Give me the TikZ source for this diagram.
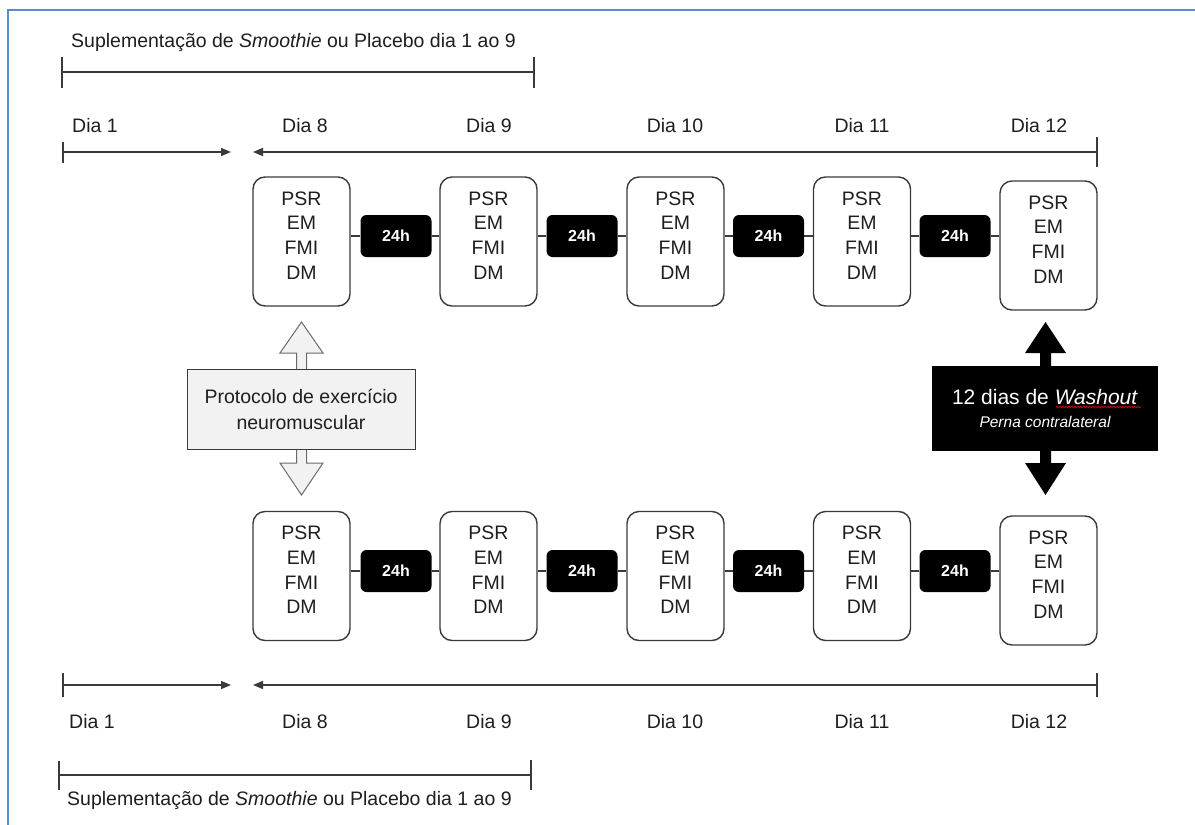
\documentclass[tikz,border=0pt]{standalone}
\usepackage{fontspec}
\setmainfont{Liberation Sans}
\usetikzlibrary{arrows.meta,decorations.pathmorphing}
\definecolor{frameblue}{HTML}{5B8BD0}
\definecolor{lineg}{HTML}{3A3A3A}
\definecolor{txt}{HTML}{1E1E1E}
\definecolor{lightg}{HTML}{F2F2F2}
\definecolor{arrowg}{HTML}{6A6A6A}
\begin{document}
\begin{tikzpicture}[x=1pt,y=-1pt,
  every node/.style={font=\fontsize{19.5}{25}\selectfont, text=txt},
  lbl/.style={inner sep=0pt},
  meas/.style={draw=lineg, line width=1.4pt, rounded corners=12pt, minimum width=97pt, minimum height=129pt, inner sep=0pt,
     label={[align=center, inner sep=0pt, yshift=6pt, font=\fontsize{19.5}{24.7}\selectfont]center:PSR\\EM\\FMI\\DM}},
  hr/.style={fill=black, rounded corners=6pt, minimum width=71pt, minimum height=42pt, inner sep=0pt, text=white, font=\fontsize{16}{18}\selectfont\bfseries},
  conn/.style={draw=lineg, line width=1.4pt},
  tl/.style={draw=lineg, line width=1.4pt},
  tip/.style={-{Triangle[length=10pt,width=8pt]}},
]
\useasboundingbox (0,0) rectangle (1195,825);
% frame
\draw[frameblue, line width=2pt] (8,830) -- (8,10) -- (1200,10);

% ---------- top ----------
\node[lbl, anchor=west] (ttitle) at (71,42) {Suplementação de \textit{Smoothie} ou Placebo dia 1 ao 9};
\coordinate (tbl) at (62,72);
\coordinate (tbr) at (534,72);
\draw[tl] (tbl) -- (tbr);
\draw[tl] ([yshift=15pt]tbl) -- ([yshift=-16pt]tbl);
\draw[tl] ([yshift=15pt]tbr) -- ([yshift=-16pt]tbr);

\node[lbl, anchor=west] (td1) at (72,126) {Dia 1};
\node[lbl] (td8) at (305,126) {Dia 8};
\node[lbl] (td9) at (489,126) {Dia 9};
\node[lbl] (td10) at (675,126) {Dia 10};
\node[lbl] (td11) at (862,126) {Dia 11};
\node[lbl] (td12) at (1039,126) {Dia 12};

\coordinate (tal) at (63,152);
\coordinate (tam) at (231,152);
\coordinate (tan) at (253,152);
\coordinate (tar) at (1097,152);
\draw[tl, tip] (tal) -- (tam);
\draw[tl] ([yshift=10pt]tal) -- ([yshift=-11pt]tal);
\draw[tl, tip] (tar) -- (tan);
\draw[tl] ([yshift=15pt]tar) -- ([yshift=-15pt]tar);

\node[meas] (a1) at (301.5,241.5) {};
\node[meas] (a2) at (488.5,241.5) {};
\node[meas] (a3) at (675.5,241.5) {};
\node[meas] (a4) at (862,241.5) {};
\node[meas] (a5) at (1048.5,245.5) {};
\node[hr] (ah1) at (396,236) {24h};
\node[hr] (ah2) at (582,236) {24h};
\node[hr] (ah3) at (768.5,236) {24h};
\node[hr] (ah4) at (955,236) {24h};
\foreach \i/\j/\h in {1/2/ah1,2/3/ah2,3/4/ah3,4/5/ah4}{
  \draw[conn] (\h.west) -- (\h.west -| a\i.east);
  \draw[conn] (\h.east) -- (\h.east -| a\j.west);
}

% ---------- bottom ----------
\node[meas] (b1) at (301.5,576) {};
\node[meas] (b2) at (488.5,576) {};
\node[meas] (b3) at (675.5,576) {};
\node[meas] (b4) at (862,576) {};
\node[meas] (b5) at (1048.5,580.5) {};
\node[hr] (bh1) at (396,571) {24h};
\node[hr] (bh2) at (582,571) {24h};
\node[hr] (bh3) at (768.5,571) {24h};
\node[hr] (bh4) at (955,571) {24h};
\foreach \i/\j/\h in {1/2/bh1,2/3/bh2,3/4/bh3,4/5/bh4}{
  \draw[conn] (\h.west) -- (\h.west -| b\i.east);
  \draw[conn] (\h.east) -- (\h.east -| b\j.west);
}

\coordinate (bal) at (63,685);
\coordinate (bam) at (231,685);
\coordinate (ban) at (253,685);
\coordinate (bar) at (1097,685);
\draw[tl, tip] (bal) -- (bam);
\draw[tl] ([yshift=12pt]bal) -- ([yshift=-12pt]bal);
\draw[tl, tip] (bar) -- (ban);
\draw[tl] ([yshift=12pt]bar) -- ([yshift=-12pt]bar);

\node[lbl, anchor=west] (bd1) at (69,722) {Dia 1};
\node[lbl] (bd8) at (305,722) {Dia 8};
\node[lbl] (bd9) at (489,722) {Dia 9};
\node[lbl] (bd10) at (675,722) {Dia 10};
\node[lbl] (bd11) at (862,722) {Dia 11};
\node[lbl] (bd12) at (1039,722) {Dia 12};

\coordinate (bbl) at (59,775);
\coordinate (bbr) at (531,775);
\draw[tl] (bbl) -- (bbr);
\draw[tl] ([yshift=14pt]bbl) -- ([yshift=-15pt]bbl);
\draw[tl] ([yshift=15pt]bbr) -- ([yshift=-15pt]bbr);
\node[lbl, anchor=west] (btitle) at (67,800) {Suplementação de \textit{Smoothie} ou Placebo dia 1 ao 9};

% ---------- protocol double arrow ----------
\filldraw[fill=lightg, draw=arrowg, line width=1pt]
  (301.5,322) -- (323,353) -- (306.5,353) -- (306.5,463) -- (323,463) -- (301.5,495)
  -- (280,463) -- (296.5,463) -- (296.5,353) -- (280,353) -- cycle;
\node[draw=lineg, fill=lightg, line width=1pt, minimum width=228pt, minimum height=80pt, align=center, inner sep=0pt,
  font=\fontsize{19.5}{26}\selectfont] (prot) at (301,409) {Protocolo de exercício\\neuromuscular};

% ---------- washout double arrow ----------
\fill[black]
  (1045.5,322) -- (1066,353) -- (1051,353) -- (1051,463) -- (1066,463) -- (1045.5,495)
  -- (1025,463) -- (1040,463) -- (1040,353) -- (1025,353) -- cycle;
\node[fill=black, minimum width=226pt, minimum height=85pt, align=center, inner sep=0pt, text=white] (wash) at (1045,408.5)
  {{\fontsize{21}{26}\selectfont 12 dias de \textit{Washout}}\\[-2pt]{\fontsize{15.5}{18}\selectfont\itshape Perna contralateral}};
\draw[red!85!black, line width=0.7pt, decorate, decoration={snake, segment length=3pt, amplitude=0.9pt}] (1056,407) -- (1141,407);
\end{tikzpicture}
\end{document}
